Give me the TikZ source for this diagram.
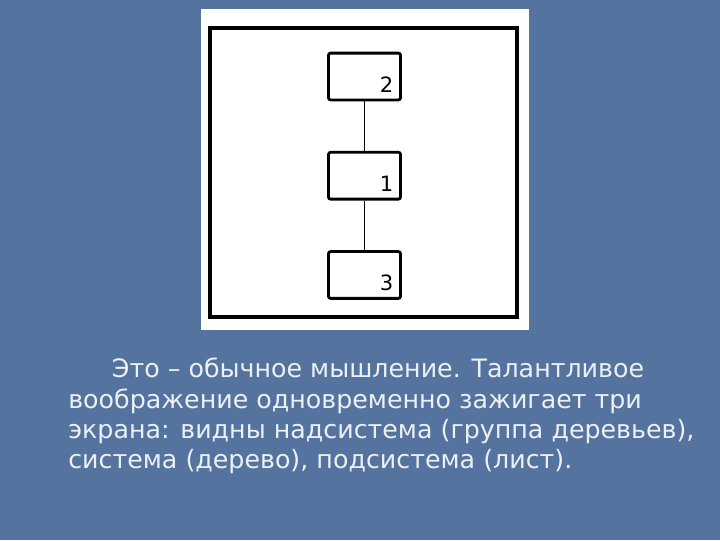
\documentclass[tikz,border=0pt]{standalone}
\usepackage{fontspec}
\setmainfont{DejaVu Sans}
\usepackage{tikz}
\usetikzlibrary{positioning}
\definecolor{slide}{RGB}{84,115,158}
\definecolor{slidetext}{RGB}{236,240,245}

\begin{document}
\begin{tikzpicture}[x=0.025cm, y=-0.025cm, node distance=1.24cm,
    screen/.style={draw, line width=2pt, rounded corners=1.5pt, minimum width=1.8cm, minimum height=1.17cm, inner sep=0pt},
    num/.style={font=\fontsize{15}{15}\selectfont, inner sep=0pt},
    link/.style={line width=1pt}]
    \fill[slide] (0,0) rectangle (720,540);
    \useasboundingbox (0,0) rectangle (720,540);
    % the picture
    \fill[white] (201,9) rectangle (529,330);
    \draw[line width=2.2pt] (210,28) rectangle (517,317);
    \node[screen] (super) at (364.5,76.5) {};
    \node[screen, below=of super] (sys) {};
    \node[screen, below=of sys] (sub) {};
    \node[num, anchor=south east] (nsuper) at ([xshift=-6pt,yshift=6pt]super.south east) {2};
    \node[num, anchor=south east] (nsys) at ([xshift=-6pt,yshift=6pt]sys.south east) {1};
    \node[num, anchor=south east] (nsub) at ([xshift=-6pt,yshift=6pt]sub.south east) {3};
    \draw[link] (super) -- (sys);
    \draw[link] (sys) -- (sub);
    % the text
    \node[anchor=north west, align=left, inner sep=0pt, text=slidetext,
        font=\fontsize{18}{21.4}\selectfont] (txt) at (68,358)
        {\hspace*{31pt}Это – обычное мышление. Талантливое\\
        воображение одновременно зажигает три\\
        экрана: видны надсистема (группа деревьев),\\
        система (дерево), подсистема (лист).};
\end{tikzpicture}
\end{document}
